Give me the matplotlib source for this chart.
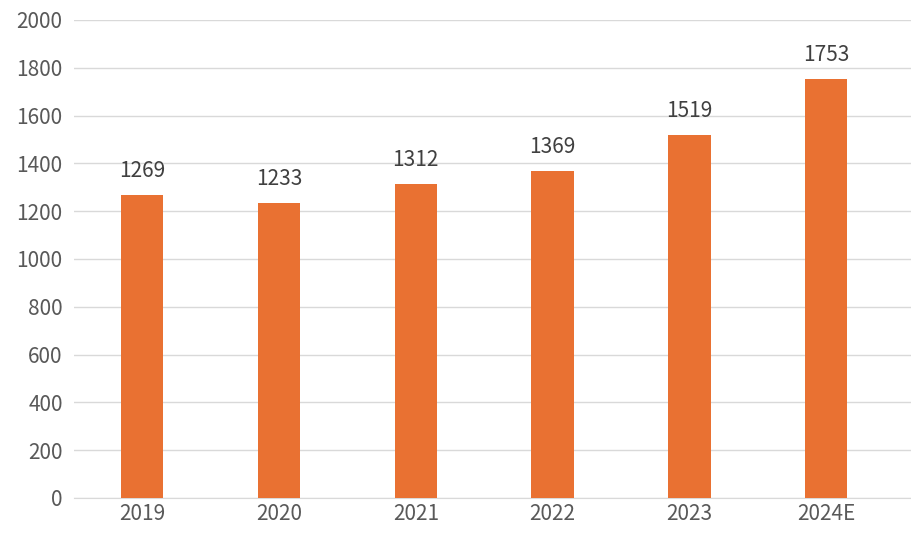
import matplotlib.pyplot as plt

years = ['2019', '2020', '2021', '2022', '2023', '2024E']
values = [1269, 1233, 1312, 1369, 1519, 1753]

plt.rcParams['font.family'] = ['Noto Sans CJK SC', 'DejaVu Sans']

fig = plt.figure(figsize=(9.11, 5.40), dpi=100)
ax = fig.add_axes([0.081, 0.078, 0.919, 0.885])

x = range(len(years))
ax.bar(x, values, width=0.31, color='#E97132', zorder=3)
for i, v in enumerate(values):
    ax.text(i, v + 55, str(v), ha='center', va='bottom', fontsize=15, color='#404040')

ax.set_xlim(-0.5, 5.62)
ax.set_ylim(0, 2000)
ax.set_yticks(range(0, 2001, 200))
ax.set_xticks(list(x))
ax.set_xticklabels(years)
ax.grid(axis='y', color='#D9D9D9', linewidth=1, zorder=0)
ax.tick_params(length=0, labelsize=15, labelcolor='#595959')
ax.tick_params(axis='y', pad=8)
for s in ['top', 'right', 'left']:
    ax.spines[s].set_visible(False)
ax.spines['bottom'].set_color('#D9D9D9')

fig.savefig('out.png', dpi=100)
